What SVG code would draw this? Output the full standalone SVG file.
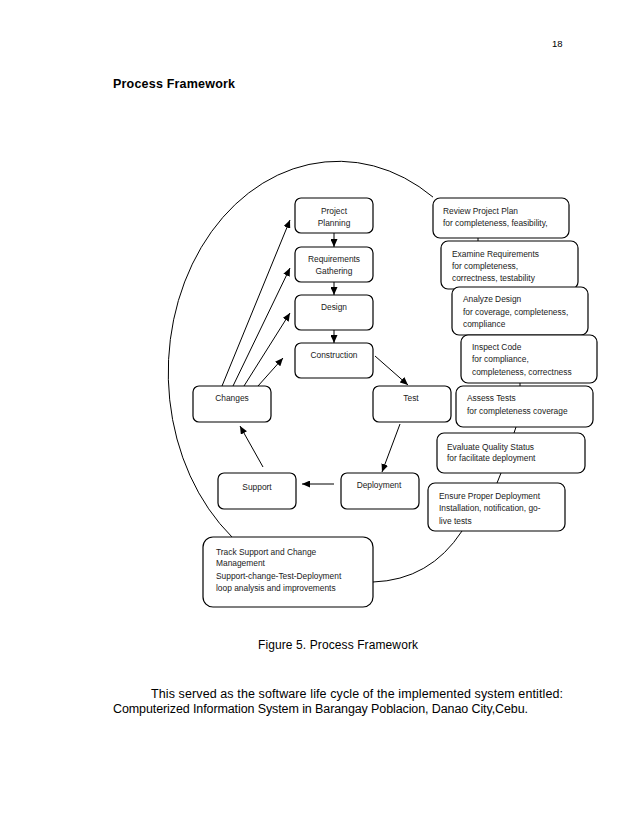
<svg xmlns="http://www.w3.org/2000/svg" width="638" height="826" viewBox="0 0 638 826">
<style>
.box{fill:#fff;stroke:#000;stroke-width:1.2}
.t{font-family:"Liberation Sans",Arial,sans-serif;font-size:8.4px;fill:#1a1a1a}
.c{text-anchor:middle}
.ln{fill:none;stroke:#000;stroke-width:1}
.pg{font-family:"Liberation Sans",Arial,sans-serif;fill:#000}
</style>
<defs>
<marker id="ah" markerUnits="userSpaceOnUse" markerWidth="8" markerHeight="7" refX="8" refY="3.5" orient="auto">
<path d="M0,0 L8,3.5 L0,7 z" fill="#000"/>
</marker>
</defs>
<rect width="638" height="826" fill="#fff"/>
<text class="pg" x="552" y="47" font-size="9.5">18</text>
<text class="pg" x="113" y="88" font-size="12.5" font-weight="bold" textLength="122">Process Framework</text>

<g id="connectors">
<path class="ln" d="M433.0 197.1 A170 211 0 0 0 231.9 536.9"/>
<path class="ln" d="M462 531 Q430 580 373 582"/>
<line class="ln" x1="478" y1="238" x2="478" y2="241"/>
<line class="ln" x1="520" y1="383" x2="520" y2="386"/>
<line class="ln" x1="516" y1="427" x2="514" y2="433"/>
<line class="ln" x1="501" y1="473" x2="497" y2="483"/>
<line class="ln" x1="334" y1="233" x2="334" y2="247" marker-end="url(#ah)"/>
<line class="ln" x1="334" y1="282" x2="334" y2="295" marker-end="url(#ah)"/>
<line class="ln" x1="334" y1="330" x2="334" y2="343" marker-end="url(#ah)"/>
<line class="ln" x1="375" y1="356" x2="408" y2="385" marker-end="url(#ah)"/>
<line class="ln" x1="400" y1="424" x2="382" y2="472" marker-end="url(#ah)"/>
<line class="ln" x1="334" y1="484" x2="302" y2="484" marker-end="url(#ah)"/>
<line class="ln" x1="263" y1="467" x2="240" y2="426" marker-end="url(#ah)"/>
<line class="ln" x1="222" y1="386" x2="290" y2="220" marker-end="url(#ah)"/>
<line class="ln" x1="233" y1="386" x2="290" y2="268" marker-end="url(#ah)"/>
<line class="ln" x1="244" y1="386" x2="290" y2="313" marker-end="url(#ah)"/>
<line class="ln" x1="258" y1="386" x2="283" y2="358" marker-end="url(#ah)"/>
</g>

<g id="project-planning"><rect class="box" x="295" y="198" width="78" height="35" rx="6"/>
<text class="t c" x="334" y="213.5">Project</text><text class="t c" x="334" y="225.5">Planning</text></g>
<g id="requirements"><rect class="box" x="295" y="247" width="78" height="35" rx="6"/>
<text class="t c" x="334" y="262">Requirements</text><text class="t c" x="334" y="274">Gathering</text></g>
<g id="design"><rect class="box" x="295" y="295" width="78" height="35" rx="6"/>
<text class="t c" x="334" y="310">Design</text></g>
<g id="construction"><rect class="box" x="295" y="343" width="78" height="35" rx="6"/>
<text class="t c" x="334" y="358">Construction</text></g>
<g id="changes"><rect class="box" x="193" y="386" width="78" height="36" rx="6"/>
<text class="t c" x="232" y="401">Changes</text></g>
<g id="test"><rect class="box" x="373" y="386" width="78" height="36" rx="6"/>
<text class="t c" x="411" y="401">Test</text></g>
<g id="support"><rect class="box" x="218" y="473" width="78" height="36" rx="6"/>
<text class="t c" x="257" y="490">Support</text></g>
<g id="deployment"><rect class="box" x="341" y="473" width="78" height="36" rx="6"/>
<text class="t c" x="379" y="488">Deployment</text></g>

<g id="review"><rect class="box" x="433" y="198" width="136" height="40" rx="7"/>
<text class="t" x="443" y="214">Review Project Plan</text><text class="t" x="443" y="226">for completeness, feasibility,</text></g>
<g id="examine"><rect class="box" x="441" y="241" width="137" height="48" rx="7"/>
<text class="t" x="452" y="257">Examine Requirements</text><text class="t" x="452" y="269">for completeness,</text><text class="t" x="452" y="281">correctness, testability</text></g>
<g id="analyze"><rect class="box" x="452" y="287" width="136" height="48" rx="7"/>
<text class="t" x="463" y="302">Analyze Design</text><text class="t" x="463" y="315">for coverage, completeness,</text><text class="t" x="463" y="327">compliance</text></g>
<g id="inspect"><rect class="box" x="461" y="335" width="136" height="48" rx="7"/>
<text class="t" x="472" y="350">Inspect Code</text><text class="t" x="472" y="362">for compliance,</text><text class="t" x="472" y="375">completeness, correctness</text></g>
<g id="assess"><rect class="box" x="456" y="386" width="137" height="41" rx="7"/>
<text class="t" x="467" y="401">Assess Tests</text><text class="t" x="467" y="414">for completeness coverage</text></g>
<g id="evaluate"><rect class="box" x="437" y="433" width="148" height="40" rx="7"/>
<text class="t" x="447" y="450">Evaluate Quality Status</text><text class="t" x="447" y="461">for facilitate deployment</text></g>
<g id="ensure"><rect class="box" x="428" y="483" width="137" height="48" rx="7"/>
<text class="t" x="439" y="499">Ensure Proper Deployment</text><text class="t" x="439" y="511">Installation, notification, go-</text><text class="t" x="439" y="524">live tests</text></g>
<g id="track"><rect class="box" x="203" y="537" width="170" height="70" rx="10"/>
<text class="t" x="216" y="555">Track Support and Change</text><text class="t" x="216" y="566">Management</text><text class="t" x="216" y="579">Support-change-Test-Deployment</text><text class="t" x="216" y="591">loop analysis and improvements</text></g>

<text class="pg" x="258" y="649" font-size="12" textLength="160">Figure 5. Process Framework</text>
<text class="pg" x="151" y="698" font-size="12.5" textLength="412">This served as the software life cycle of the implemented system entitled:</text>
<text class="pg" x="113" y="713" font-size="12.5" textLength="415">Computerized Information System in Barangay Poblacion, Danao City,Cebu.</text>
</svg>
